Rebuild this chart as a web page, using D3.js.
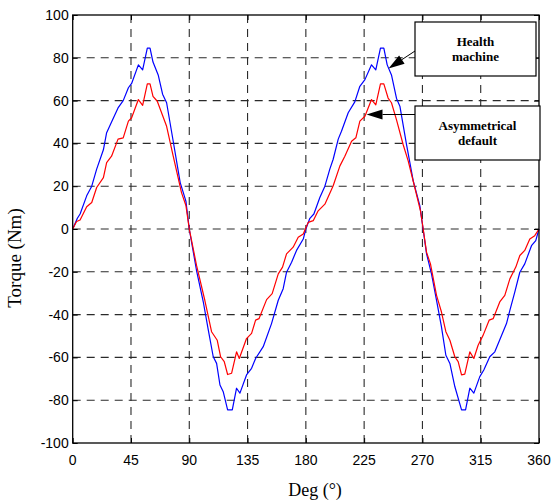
<!DOCTYPE html>
<html><head><meta charset="utf-8">
<script src="https://cdn.jsdelivr.net/npm/d3@7"></script>
<style>body{margin:0;background:#fff}</style>
</head><body>
<svg id="c" width="553" height="501"></svg>
<script>
const xTicks = [0,45,90,135,180,225,270,315,360];
const yTicks = [-100,-80,-60,-40,-20,0,20,40,60,80,100];

const healthDeg = [0,3.6,5.7,10.8,14.7,18.5,23.7,26.2,30,35,39,43,45.5,50.7,54,57.6,59.7,62,66,69.4,72.5,77.6,83,87.4,90,
 95.6,100.8,104.7,108.5,111.1,113.7,116.2,119.6,123.2,126.5,129.1,134.2,138.1,141.2,147.1,153.5,158.7,162.5,165.1,169,172.8,178,180,
 183.1,186.2,190.8,194.7,198.5,201.1,205,207.5,212.7,217.8,221.7,225.6,230.7,234,237.6,240.2,242.8,246.1,250,252.6,257.7,262.9,268,270.5,
 273.2,277,280.9,284.7,288.1,291.2,295,300.2,303.3,306.6,309.7,314.3,317.4,322,325.9,334.9,337.5,341.3,345.2,349,354.2,357.5,360];
const healthTorque = [0,5,7,15.5,20,28,37,45,50,56.6,60,66,68,76.7,74.4,84.5,84.5,78,72,63,59,41,21.7,13,0,
 -19.4,-34,-47.3,-59.7,-62.8,-72.9,-76,-84.5,-84.5,-74.4,-76.7,-68.2,-65.1,-60.5,-55,-44.2,-33.3,-27.9,-20.2,-15.5,-10,-4.7,0,
 5,7,14.7,20,28,32.6,42,45.7,54.3,59.4,66.7,69.8,76.7,74.4,84.5,84.5,76.7,72,61,57.4,39.5,22.5,10.9,0,
 -11.6,-21,-33.3,-45.7,-59,-62.8,-73.6,-84.5,-84.5,-74.4,-76.7,-69,-65.9,-59.7,-57.4,-44.2,-38,-29.5,-20.2,-16.3,-7.8,-5.4,0];

const asymDeg = [0,3,5.7,10.8,14.7,18.5,23.7,26.2,30,35,39,43,45.5,50.7,54,57.6,59.7,62,65.3,72.5,77.6,84,87.4,90,
 95.6,102,107.2,111.6,114.2,117,119.6,122.7,126.5,128.6,134.2,138.1,141.2,143.8,149.7,154,158.7,162,165.1,170.2,174.1,178,
 181.8,185.7,189.5,194.7,201.1,206.3,210.1,215.3,218.6,221.7,225.6,230.7,234,237.6,240.2,243.5,246.1,250,255.1,259,264.1,268.5,270.6,
 273.2,276.2,280.9,284.7,288.1,291.2,295,297.6,300.2,302.7,306.6,309.7,313,316.9,321.5,324.6,329.7,333.6,337.5,342.1,345.2,349,352.9,356.7,360];
const asymTorque = [0,3.5,4.2,10.4,12.4,19.4,24,31,34,42,42.6,50.4,52,60.5,57.8,67.8,67.8,62,59.7,48,34,17,11,0,
 -17,-33.3,-48,-52,-59.7,-62,-68,-67.4,-57.4,-60.5,-51.2,-48.8,-42.6,-41.9,-33,-30.2,-21,-17.8,-11.6,-8.5,-3.9,-2.3,
 3.1,3.9,8.5,11.6,20.2,29.5,34,41,42.6,50.4,52.7,60.5,58,67.8,67.8,61.2,59,51,39.5,31.8,19.4,8.5,0,
 -10.9,-16.3,-31,-38.8,-48,-52,-59.7,-62,-68.2,-67.8,-57.4,-60.5,-54.3,-49.6,-42.6,-41.9,-34.1,-31,-23.3,-17.8,-12.4,-10,-4.7,-3.1,0];

const seriesNames = ["Health machine","Asymmetrical default"];
const seriesColors = ["#0000ff","#ff0000"];
const xLabel = "Deg (°)";
const yLabel = "Torque (Nm)";

const L = 72.7, R = 539, T = 15, B = 443;
const svg = d3.select("#c");
const x = d3.scaleLinear().domain([0,360]).range([L,R]);
const y = d3.scaleLinear().domain([-100,100]).range([B,T]);

// grid
const grid = svg.append("g").attr("stroke","#2a2a2a").attr("stroke-width",1.1).attr("stroke-dasharray","8,6");
grid.selectAll("line.v").data(xTicks.slice(1,-1)).join("line")
  .attr("x1",d=>x(d)).attr("x2",d=>x(d)).attr("y1",T).attr("y2",B);
grid.selectAll("line.h").data(yTicks.slice(1,-1)).join("line")
  .attr("x1",L).attr("x2",R).attr("y1",d=>y(d)).attr("y2",d=>y(d));

// series
const line = d3.line().x(d=>x(d[0])).y(d=>y(d[1]));
const data = [d3.zip(healthDeg,healthTorque), d3.zip(asymDeg,asymTorque)];
svg.selectAll("path.s").data(data).join("path")
  .attr("fill","none").attr("stroke",(d,i)=>seriesColors[i]).attr("stroke-width",1.2)
  .attr("stroke-linejoin","round").attr("d",line);

// axes (ticks inside)
const fmt = d=>String(d);
const ax = (g)=>{g.select(".domain").remove(); g.selectAll("text").remove(); g.selectAll("line").attr("stroke","#000");};
svg.append("g").attr("transform",`translate(0,${B})`).call(d3.axisBottom(x).tickValues(xTicks).tickSizeInner(-5).tickSizeOuter(0)).call(ax);
svg.append("g").attr("transform",`translate(0,${T})`).call(d3.axisTop(x).tickValues(xTicks).tickSizeInner(-5).tickSizeOuter(0)).call(ax);
svg.append("g").attr("transform",`translate(${L},0)`).call(d3.axisLeft(y).tickValues(yTicks).tickSizeInner(-5).tickSizeOuter(0)).call(ax);
svg.append("g").attr("transform",`translate(${R},0)`).call(d3.axisRight(y).tickValues(yTicks).tickSizeInner(-5).tickSizeOuter(0)).call(ax);

svg.append("rect").attr("x",L).attr("y",T).attr("width",R-L).attr("height",B-T)
  .attr("fill","none").attr("stroke","#000").attr("stroke-width",1.3);

// tick labels
const tf = "'Liberation Sans', Arial, sans-serif";
svg.selectAll("text.xt").data(xTicks).join("text")
  .attr("x",d=>x(d)).attr("y",B+22).attr("text-anchor","middle")
  .attr("font-family",tf).attr("font-size",14).text(fmt);
svg.selectAll("text.yt").data(yTicks).join("text")
  .attr("x",L-4).attr("y",d=>y(d)+5).attr("text-anchor","end")
  .attr("font-family",tf).attr("font-size",14).text(fmt);

const sf = "'Liberation Serif', 'Times New Roman', serif";
svg.append("text").attr("x",315).attr("y",496).attr("text-anchor","middle")
  .attr("font-family",sf).attr("font-size",18).text(xLabel);
svg.append("text").attr("transform","translate(21,258) rotate(-90)").attr("text-anchor","middle")
  .attr("font-family",sf).attr("font-size",19).text(yLabel);

// annotations
const ann = [
  {x:415,y:22,w:121,h:54,lines:["Health","machine"],from:[415,51],to:[388.5,68.5]},
  {x:415,y:106,w:125,h:54,lines:["Asymmetrical","default"],from:[415,114.5],to:[366.5,114.5]}
];
ann.forEach((a,i)=>{
  const dx=a.to[0]-a.from[0], dy=a.to[1]-a.from[1], len=Math.hypot(dx,dy);
  const ux=dx/len, uy=dy/len, hl=16, hw=5;
  const bx=a.to[0]-ux*hl, by=a.to[1]-uy*hl;
  svg.append("line").attr("x1",a.from[0]).attr("y1",a.from[1]).attr("x2",bx).attr("y2",by)
    .attr("stroke","#000").attr("stroke-width",1);
  svg.append("path").attr("d",`M${a.to[0]},${a.to[1]}L${bx-uy*hw},${by+ux*hw}L${bx+uy*hw},${by-ux*hw}Z`).attr("fill","#000");
  svg.append("rect").attr("x",a.x).attr("y",a.y).attr("width",a.w).attr("height",a.h)
    .attr("fill","#fff").attr("stroke","#000").attr("stroke-width",1.2);
  a.lines.forEach((t,j)=>{
    svg.append("text").attr("x",a.x+a.w/2).attr("y",a.y+a.h/2-3+j*15).attr("text-anchor","middle")
      .attr("font-family",sf).attr("font-weight","bold").attr("font-size",13).text(t);
  });
});
</script>
</body></html>
